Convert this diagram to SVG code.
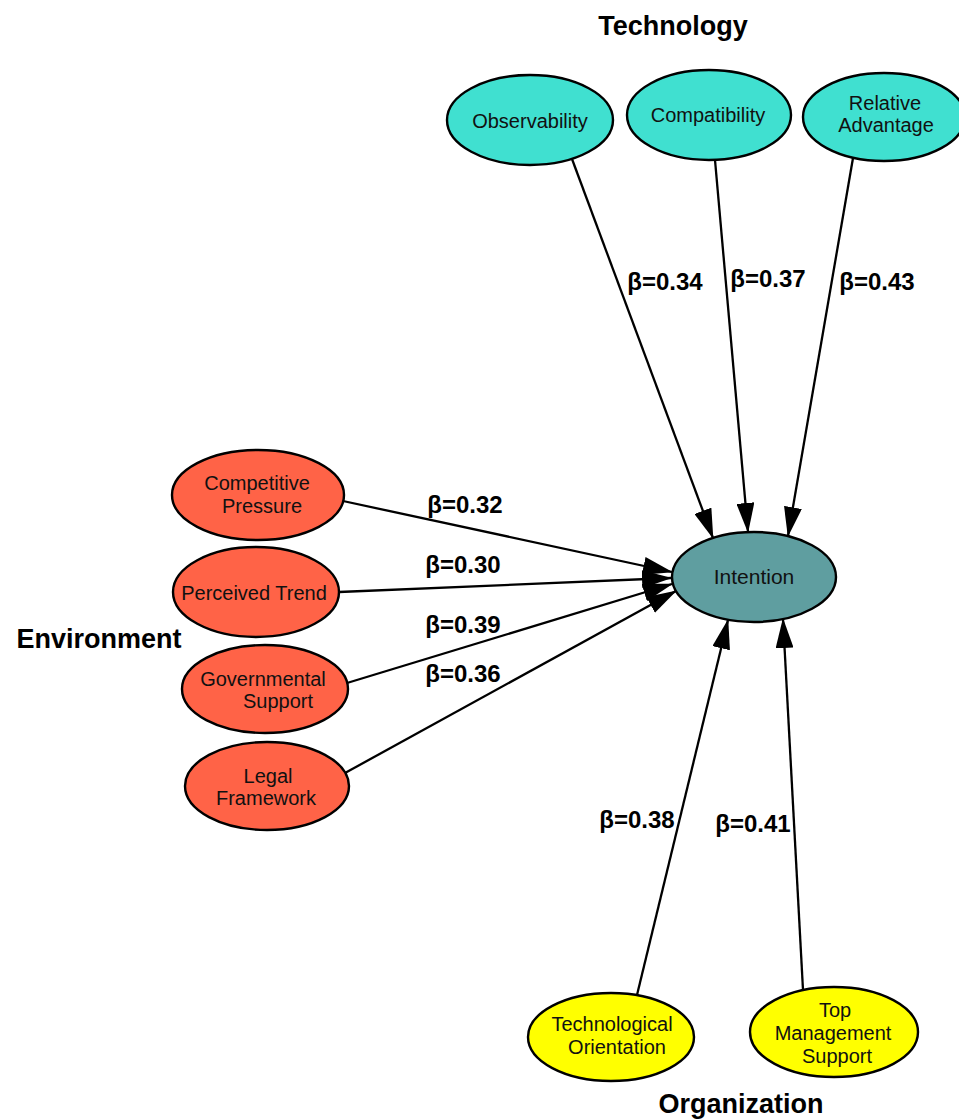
<svg xmlns="http://www.w3.org/2000/svg" width="959" height="1119" viewBox="0 0 959 1119">
<defs>
<style>
.n{stroke:#000;stroke-width:2.4}
.tech{fill:#40E0D0}
.env{fill:#FF6347}
.org{fill:#FFFF00}
.int{fill:#5F9EA0}
.lbl{font-family:"Liberation Sans",Arial,sans-serif;font-size:20px;fill:#111;text-anchor:middle}
.b{font-family:"Liberation Sans",Arial,sans-serif;font-size:24px;font-weight:bold;fill:#000;text-anchor:middle}
.h{font-family:"Liberation Sans",Arial,sans-serif;font-size:27px;font-weight:bold;fill:#000;text-anchor:middle}
.e{stroke:#000;stroke-width:2.3;fill:none;marker-end:url(#ah)}
</style>
<marker id="ah" viewBox="0 0 30 18" refX="29" refY="9" markerWidth="30" markerHeight="18" orient="auto" markerUnits="userSpaceOnUse">
<path d="M0,0 L30,9 L0,18 z" fill="#000"/>
</marker>
</defs>
<rect width="959" height="1119" fill="#fff"/>

<g id="headers">
<text class="h" x="673" y="35">Technology</text>
<text class="h" x="99" y="648">Environment</text>
<text class="h" x="741" y="1113">Organization</text>
</g>

<g id="connectors">
<line class="e" x1="572" y1="159" x2="713" y2="538"/>
<line class="e" x1="715" y1="160" x2="748" y2="532"/>
<line class="e" x1="853" y1="158" x2="788" y2="536"/>
<line class="e" x1="343" y1="501" x2="672" y2="572"/>
<line class="e" x1="339" y1="592" x2="671" y2="578"/>
<line class="e" x1="347" y1="683" x2="672" y2="584"/>
<line class="e" x1="345" y1="773" x2="676" y2="591"/>
<line class="e" x1="637" y1="995" x2="728" y2="620"/>
<line class="e" x1="803" y1="990" x2="783" y2="619"/>
<text class="b" x="665" y="290">β=0.34</text>
<text class="b" x="768" y="287">β=0.37</text>
<text class="b" x="877" y="290">β=0.43</text>
<text class="b" x="465" y="513">β=0.32</text>
<text class="b" x="463" y="573">β=0.30</text>
<text class="b" x="463" y="633">β=0.39</text>
<text class="b" x="463" y="682">β=0.36</text>
<text class="b" x="637" y="828">β=0.38</text>
<text class="b" x="753" y="832">β=0.41</text>
</g>

<g id="observability">
<ellipse class="n tech" cx="530" cy="120" rx="83" ry="45"/>
<text class="lbl" x="530" y="128">Observability</text>
</g>
<g id="compatibility">
<ellipse class="n tech" cx="709" cy="115" rx="82" ry="45"/>
<text class="lbl" x="708" y="122">Compatibility</text>
</g>
<g id="relative-advantage">
<ellipse class="n tech" cx="884" cy="117" rx="81" ry="44"/>
<text class="lbl" x="885" y="110">Relative</text>
<text class="lbl" x="886" y="132">Advantage</text>
</g>
<g id="intention">
<ellipse class="n int" cx="754" cy="577" rx="82" ry="45"/>
<text class="lbl" x="754" y="584" style="font-size:21px">Intention</text>
</g>
<g id="competitive-pressure">
<ellipse class="n env" cx="258" cy="495" rx="86" ry="45"/>
<text class="lbl" x="257" y="490">Competitive</text>
<text class="lbl" x="262" y="513">Pressure</text>
</g>
<g id="perceived-trend">
<ellipse class="n env" cx="256" cy="592" rx="83" ry="45"/>
<text class="lbl" x="254" y="600">Perceived Trend</text>
</g>
<g id="governmental-support">
<ellipse class="n env" cx="265" cy="689" rx="83" ry="44"/>
<text class="lbl" x="263" y="686">Governmental</text>
<text class="lbl" x="278" y="708">Support</text>
</g>
<g id="legal-framework">
<ellipse class="n env" cx="267" cy="786" rx="82" ry="44"/>
<text class="lbl" x="268" y="783">Legal</text>
<text class="lbl" x="266" y="805">Framework</text>
</g>
<g id="technological-orientation">
<ellipse class="n org" cx="611" cy="1037" rx="83" ry="44"/>
<text class="lbl" x="612" y="1031">Technological</text>
<text class="lbl" x="617" y="1054">Orientation</text>
</g>
<g id="top-management-support">
<ellipse class="n org" cx="834" cy="1032" rx="84" ry="45"/>
<text class="lbl" x="835" y="1017">Top</text>
<text class="lbl" x="833" y="1040">Management</text>
<text class="lbl" x="837" y="1063">Support</text>
</g>
</svg>
